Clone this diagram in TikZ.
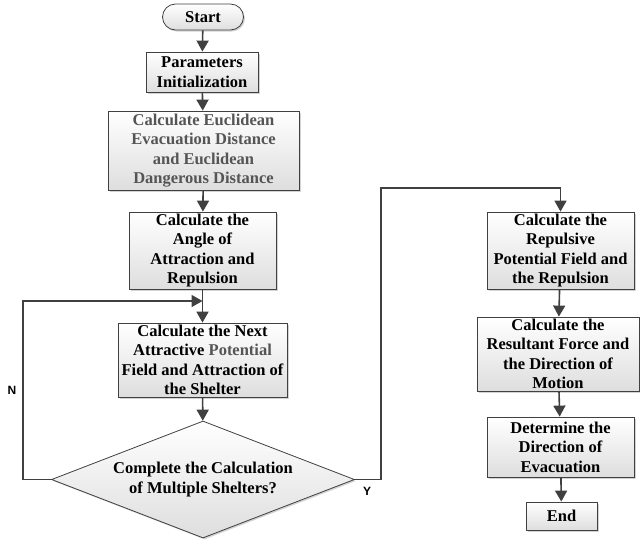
\documentclass[tikz,border=0pt]{standalone}
\usepackage{fontspec}
\setmainfont{Liberation Serif}
\newfontfamily\labfont{Liberation Sans}
\usepackage{xcolor}
\usepackage{tikz}
\usetikzlibrary{shapes.geometric,shapes.misc,shadows,arrows.meta}

\definecolor{linegray}{HTML}{404040}
\definecolor{txtgray}{HTML}{555555}

\begin{document}
\begin{tikzpicture}[x=1pt,y=-1pt,
    box/.style={rectangle,draw=linegray,line width=0.8pt,top color=white,bottom color=black!13,
        drop shadow={shadow xshift=1.5pt,shadow yshift=-1.5pt,opacity=0.35},
        align=center,font=\bfseries\fontsize{16.5}{19.5}\selectfont,inner sep=0pt},
    flow/.style={-{Triangle[width=12pt,length=11pt]},draw=linegray,line width=1.6pt},
    yn/.style={font=\labfont\bfseries\fontsize{12}{14}\selectfont}]
    \useasboundingbox (0,0) rectangle (640,542);

    \node[box,shape=rounded rectangle,minimum width=81pt,minimum height=26pt] (S) at (203,17) {Start};
    \node[box,minimum width=112pt,minimum height=40pt] (P) at (202,72) {Parameters\\Initialization};
    \node[box,minimum width=191pt,minimum height=79pt,text=txtgray] (E) at (203.5,150.5)
        {Calculate Euclidean\\Evacuation Distance\\and Euclidean\\Dangerous Distance};
    \node[box,minimum width=147pt,minimum height=77pt] (A) at (202.5,250.5)
        {Calculate the\\Angle of\\Attraction and\\Repulsion};
    \node[box,minimum width=169pt,minimum height=74pt] (N) at (202.5,360)
        {Calculate the Next\\Attractive \textcolor{txtgray}{Potential}\\Field and Attraction of\\the Shelter};
    \node[box,shape=diamond,aspect=2.59,minimum width=303pt,minimum height=117pt] (C) at (203,479.5)
        {Complete the Calculation\\of Multiple Shelters?};

    \node[box,minimum width=147pt,minimum height=77pt] (R) at (560.5,250.5)
        {Calculate the\\Repulsive\\Potential Field and\\the Repulsion};
    \node[box,minimum width=162pt,minimum height=74pt] (F) at (558,354)
        {Calculate the\\Resultant Force and\\the Direction of\\Motion};
    \node[box,minimum width=147pt,minimum height=60pt] (D) at (560.5,447)
        {Determine the\\Direction of\\Evacuation};
    \node[box,minimum width=71pt,minimum height=28pt] (End) at (561.5,516) {End};

    \coordinate (j) at (202.5,301);
    \coordinate (y1) at (381,188);

    \draw[flow] (S) -- (P);
    \draw[flow] (P) -- (E);
    \draw[flow] (E) -- (A);
    \draw[flow] (A) -- (N);
    \draw[flow] (N) -- (C);
    \draw[flow] (C.west) -- ++(-28,0) |- (j);
    \draw[flow] (C.east) -| (y1) -| (R.north);
    \draw[flow] (R) -- (F);
    \draw[flow] (F) -- (D);
    \draw[flow] (D) -- (End);

    \node[yn] (no) at (12,390) {N};
    \node[yn] (yes) at (367,491) {Y};
\end{tikzpicture}
\end{document}
